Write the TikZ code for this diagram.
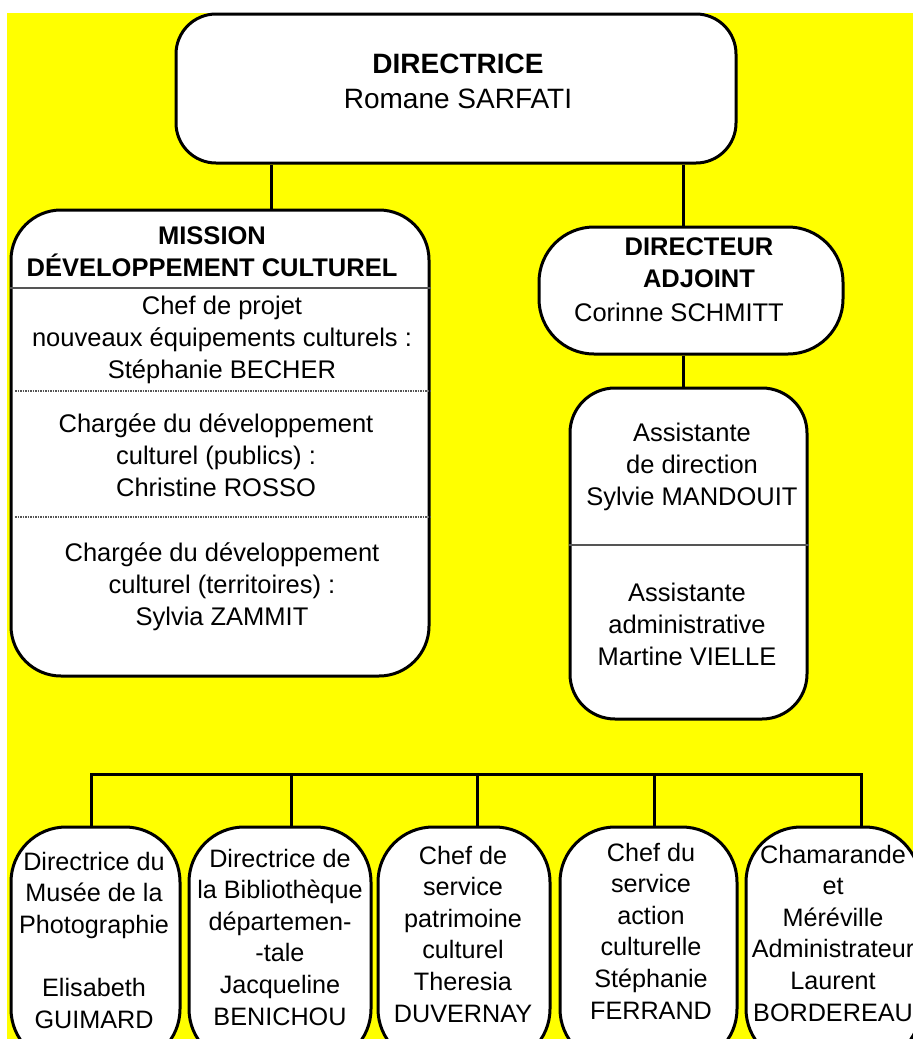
\documentclass[tikz,border=0pt]{standalone}
\usepackage{fontspec}
\setmainfont{Liberation Sans}
\definecolor{bgyellow}{HTML}{FFFF00}
\definecolor{sepgray}{HTML}{555555}
\tikzset{
  box/.style={draw=black, line width=3pt, fill=white, inner sep=0pt},
  conn/.style={draw=black, line width=3pt},
  sepline/.style={draw=sepgray, line width=1.5pt},
  dotline/.style={draw=sepgray, line width=1.3pt, dash pattern=on 1.5pt off 1pt},
  txt/.style={align=center, inner sep=0pt, font=\fontsize{25.5}{32}\selectfont},
  txtbig/.style={align=center, inner sep=0pt, font=\fontsize{28}{35}\selectfont},
  txtsmall/.style={align=center, inner sep=0pt, font=\fontsize{25.2}{31.6}\selectfont},
}
\begin{document}
\begin{tikzpicture}[x=1pt,y=-1pt]
\useasboundingbox (0,0) rectangle (913,1039);
\clip (0,0) rectangle (913,1039);
\fill[white] (0,0) rectangle (913,1039);
\fill[bgyellow] (7,13) rectangle (913,1039);

% boxes
\node[box, minimum width=560pt, minimum height=149pt, rounded corners=40pt] (top) at (456,88.5) {};
\node[box, minimum width=418pt, minimum height=466pt, rounded corners=50pt] (mission) at (220,443) {};
\node[box, minimum width=304pt, minimum height=127pt, rounded corners=55pt] (adj) at (691,290.5) {};
\node[box, minimum width=237pt, minimum height=331pt, rounded corners=45pt] (asst) at (688.5,553.5) {};
\node[box, minimum width=169pt, minimum height=237pt, rounded corners=55pt] (b1) at (95.5,945.5) {};
\node[box, minimum width=182pt, minimum height=237pt, rounded corners=55pt] (b2) at (280,945.5) {};
\node[box, minimum width=172pt, minimum height=237pt, rounded corners=55pt] (b3) at (464,945.5) {};
\node[box, minimum width=177pt, minimum height=237pt, rounded corners=55pt] (b4) at (648.5,945.5) {};
\node[box, minimum width=174pt, minimum height=237pt, rounded corners=55pt] (b5) at (833,945.5) {};

% connectors
\coordinate (cl) at (271,0);
\coordinate (cr) at (683,0);
\draw[conn] (cl |- top.south) -- (cl |- mission.north);
\draw[conn] (cr |- top.south) -- (cr |- adj.north);
\draw[conn] (cr |- adj.south) -- (cr |- asst.north);

\coordinate (d1) at (91,774);
\coordinate (d2) at (291,774);
\coordinate (d3) at (477,774);
\coordinate (d4) at (654,774);
\coordinate (d5) at (861,774);
\draw[conn, line cap=rect] (d1) -- (d5);
\draw[conn] (d1) -- (d1 |- b1.north);
\draw[conn] (d2) -- (d2 |- b2.north);
\draw[conn] (d3) -- (d3 |- b3.north);
\draw[conn] (d4) -- (d4 |- b4.north);
\draw[conn] (d5) -- (d5 |- b5.north);

% separators
\coordinate (s1) at (0,288);
\coordinate (s2) at (15,391);
\coordinate (s3) at (15,517);
\coordinate (s4) at (0,545);
\draw[sepline] (mission.west |- s1) -- (mission.east |- s1);
\draw[dotline] (s2) -- (mission.east |- s2);
\draw[dotline] (s3) -- (mission.east |- s3);
\draw[sepline] (asst.west |- s4) -- (asst.east |- s4);

% texts
\node[txtbig] (tdir) at (458,81) {\textbf{DIRECTRICE}\\Romane SARFATI};
\node[txt] (tmis) at (212,252) {\textbf{MISSION}\\\textbf{DÉVELOPPEMENT CULTUREL}};
\node[txt] (tg1) at (222,340) {Chef de projet\\nouveaux équipements culturels :\\Stéphanie BECHER};
\node[txt] (tg2) at (216,455) {Chargée du développement\\culturel (publics) :\\Christine ROSSO};
\node[txt] (tg3) at (222,587) {Chargée du développement\\culturel (territoires) :\\Sylvia ZAMMIT};
\node[txt] (tadj) at (699,263) {\textbf{DIRECTEUR}\\\textbf{ADJOINT}};
\node[txt] (tadjn) at (679,312) {Corinne SCHMITT};
\node[txt] (tas1) at (692,467) {Assistante\\de direction\\Sylvie MANDOUIT};
\node[txt] (tas2) at (687,624) {Assistante\\administrative\\Martine VIELLE};

\node[txtsmall] (tb1) at (94,940) {Directrice du\\Musée de la\\Photographie\\\mbox{}\\Elisabeth\\GUIMARD};
\node[txtsmall] (tb2) at (280,937) {Directrice de\\la Bibliothèque\\départemen-\\-tale\\Jacqueline\\BENICHOU};
\node[txtsmall] (tb3) at (463,934) {Chef de\\service\\patrimoine\\culturel\\Theresia\\DUVERNAY};
\node[txtsmall] (tb4) at (651,931) {Chef du\\service\\action\\culturelle\\Stéphanie\\FERRAND};
\node[txtsmall] (tb5) at (833,933) {Chamarande\\et\\Méréville\\Administrateur\\Laurent\\BORDEREAU};
\end{tikzpicture}
\end{document}
